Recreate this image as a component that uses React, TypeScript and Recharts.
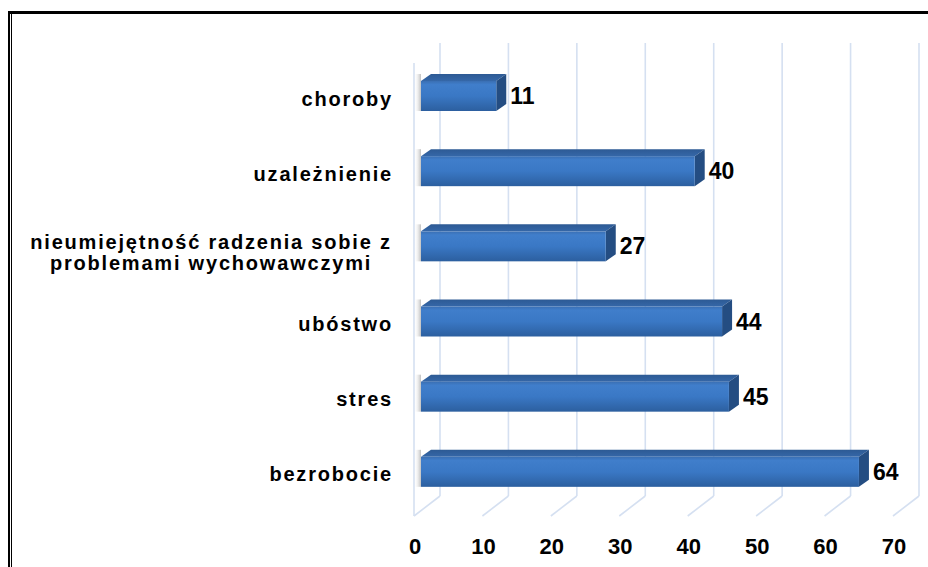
import React from "react"
import { Bar, BarChart, CartesianGrid, LabelList, XAxis, YAxis } from "recharts"

const categories = [
  "choroby",
  "uzależnienie",
  "nieumiejętność radzenia sobie z\nproblemami wychowawczymi",
  "ubóstwo",
  "stres",
  "bezrobocie",
]

const values = [11, 40, 27, 44, 45, 64]

const xTicks = [0, 10, 20, 30, 40, 50, 60, 70]

const data = categories.map((name, i) => ({ name, value: values[i] }))

const FONT = "'Liberation Sans', Arial, sans-serif"

// 3d box offsets
const DX = 10
const DY = 7
// back wall / floor offsets relative to bar plane
const BACK_DX = 19
const FRONT_DX = -7
const WALL_TOP = 43
const FLOOR_BACK = 496
const FLOOR_FRONT = 516

function GridLine(props: any) {
  const { x1, index } = props
  const bx = x1 + BACK_DX
  const fx = x1 + FRONT_DX
  return (
    <g key={`g-${index}`}>
      <line x1={bx} y1={WALL_TOP} x2={bx} y2={FLOOR_BACK} stroke="#d5e0f1" strokeWidth={1.6} />
      <line x1={bx} y1={FLOOR_BACK} x2={fx} y2={FLOOR_FRONT} stroke="#d5e0f1" strokeWidth={1.6} />
      {index === 0 && (
        <line x1={fx} y1={WALL_TOP + 20} x2={fx} y2={FLOOR_FRONT} stroke="#d5e0f1" strokeWidth={1.6} />
      )}
    </g>
  )
}

function XTick(props: any) {
  const { x, payload } = props
  return (
    <text
      x={x - 6}
      y={554}
      textAnchor="middle"
      fontFamily={FONT}
      fontWeight="bold"
      fontSize={22}
      fill="#000"
    >
      {payload.value}
    </text>
  )
}

function YTick(props: any) {
  const { x, y, payload } = props
  const lines = String(payload.value).split("\n")
  if (lines.length === 1) {
    return (
      <text
        x={x}
        y={y + 10}
        textAnchor="end"
        fontFamily={FONT}
        fontWeight="bold"
        fontSize={20}
        letterSpacing={1.8}
        fill="#000"
      >
        {lines[0]}
      </text>
    )
  }
  const cx = x - 182
  return (
    <text
      x={cx}
      y={y + 3}
      textAnchor="middle"
      fontFamily={FONT}
      fontWeight="bold"
      fontSize={20}
      letterSpacing={1.8}
      fill="#000"
    >
      {lines.map((l, i) => (
        <tspan key={i} x={cx} dy={i === 0 ? 0 : 21}>
          {l}
        </tspan>
      ))}
    </text>
  )
}

function Bar3D(props: any) {
  const { x, y, width, height } = props
  const r = x + width
  return (
    <g>
      <rect x={x - 7} y={y - DY} width={7} height={height + DY} fill="url(#shadow)" />
      <polygon
        points={`${x},${y} ${x + DX},${y - DY} ${r + DX},${y - DY} ${r},${y}`}
        fill="url(#topFace)"
      />
      <polygon
        points={`${r},${y} ${r + DX},${y - DY} ${r + DX},${y + height - DY} ${r},${y + height}`}
        fill="#244d82"
      />
      <rect x={x} y={y} width={width} height={height} fill="url(#frontFace)" />
    </g>
  )
}

function ValueLabel(props: any) {
  const { x, y, width, height, value } = props
  return (
    <text
      x={x + width + DX + 4}
      y={y + height / 2 + 8}
      fontFamily={FONT}
      fontWeight="bold"
      fontSize={23}
      fill="#000"
    >
      {value}
    </text>
  )
}

export default function App() {
  return (
    <div
      style={{
        position: "absolute",
        left: 0,
        top: 0,
        width: 928,
        height: 567,
        background: "#fff",
        overflow: "hidden",
      }}
    >
      <div style={{ position: "absolute", left: 8, top: 11, width: 920, height: 3, background: "#000" }} />
      <div style={{ position: "absolute", left: 8, top: 11, width: 2, height: 556, background: "#000" }} />
      <div style={{ position: "absolute", left: 11, top: 11, width: 1, height: 556, background: "#000" }} />
      <div style={{ position: "absolute", left: 0, top: 0 }}>
        <BarChart
          width={928}
          height={567}
          layout="vertical"
          data={data}
          margin={{ top: 58, right: 28, bottom: 8, left: 21 }}
          barSize={30}
        >
          <defs>
            <linearGradient id="frontFace" x1="0" y1="0" x2="0" y2="1">
              <stop offset="0%" stopColor="#3a6fb3" />
              <stop offset="12%" stopColor="#407ecb" />
              <stop offset="50%" stopColor="#3a78c5" />
              <stop offset="100%" stopColor="#2c5f9f" />
            </linearGradient>
            <linearGradient id="topFace" x1="0" y1="0" x2="0" y2="1">
              <stop offset="0%" stopColor="#2d5a94" />
              <stop offset="100%" stopColor="#3567a8" />
            </linearGradient>
            <linearGradient id="shadow" x1="0" y1="0" x2="1" y2="0">
              <stop offset="0%" stopColor="#ffffff" stopOpacity={0} />
              <stop offset="100%" stopColor="#8c8c8c" stopOpacity={0.55} />
            </linearGradient>
          </defs>
          <CartesianGrid horizontal={false} vertical={(p: any) => <GridLine {...p} />} />
          <XAxis
            type="number"
            domain={[0, 70]}
            ticks={xTicks}
            interval={0}
            height={50}
            axisLine={false}
            tickLine={false}
            tick={<XTick />}
          />
          <YAxis
            type="category"
            dataKey="name"
            width={400}
            interval={0}
            axisLine={false}
            tickLine={false}
            tickSize={0}
            tickMargin={28}
            tick={<YTick />}
          />
          <Bar dataKey="value" shape={<Bar3D />} isAnimationActive={false}>
            <LabelList dataKey="value" content={<ValueLabel />} />
          </Bar>
        </BarChart>
      </div>
    </div>
  )
}
